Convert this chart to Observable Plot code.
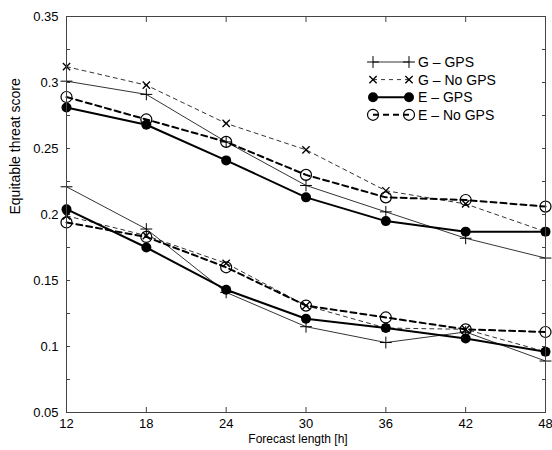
<!DOCTYPE html>
<html><head><meta charset="utf-8">
<script src="https://cdn.jsdelivr.net/npm/d3@7"></script>
<script src="https://cdn.jsdelivr.net/npm/@observablehq/plot@0.6"></script>
<style>
html,body{margin:0;padding:0;background:#fff;}
#chart{position:relative;width:552px;height:450px;}
</style></head><body><div id="chart"></div>
<script>
// Forecast length (hours)
const hours = [12, 18, 24, 30, 36, 42, 48];
// Upper group of curves
const gGpsUpper   = [0.301, 0.291, 0.255, 0.222, 0.202, 0.182, 0.167];
const gNoGpsUpper = [0.312, 0.298, 0.269, 0.249, 0.218, 0.208, 0.187];
const eGpsUpper   = [0.281, 0.268, 0.241, 0.213, 0.195, 0.187, 0.187];
const eNoGpsUpper = [0.289, 0.272, 0.255, 0.230, 0.213, 0.211, 0.206];
// Lower group of curves
const gGpsLower   = [0.221, 0.189, 0.141, 0.115, 0.103, 0.111, 0.089];
const gNoGpsLower = [0.199, 0.184, 0.163, 0.131, 0.114, 0.113, 0.096];
const eGpsLower   = [0.204, 0.175, 0.143, 0.121, 0.114, 0.106, 0.096];
const eNoGpsLower = [0.194, 0.183, 0.160, 0.131, 0.122, 0.113, 0.111];
// Legend labels and ticks
const seriesNames = ["G – GPS", "G – No GPS", "E – GPS", "E – No GPS"];
const xTicks = [12, 18, 24, 30, 36, 42, 48];
const yTicks = [0.05, 0.1, 0.15, 0.2, 0.25, 0.3, 0.35];
const yMinorTicks = [0.05, 0.075, 0.1, 0.125, 0.15, 0.175, 0.2, 0.225, 0.25, 0.275, 0.3, 0.325, 0.35];
const xLabel = "Forecast length [h]";
const yLabel = "Equitable threat score";

const seriesValues = [
  [gGpsUpper, gGpsLower],
  [gNoGpsUpper, gNoGpsLower],
  [eGpsUpper, eGpsLower],
  [eNoGpsUpper, eNoGpsLower]
];
const rows = [];
seriesNames.forEach((name, si) => {
  seriesValues[si].forEach((vals, bi) => {
    vals.forEach((v, i) => rows.push({hour: hours[i], value: v, series: name, band: bi}));
  });
});
const styles = {
  "G – GPS":    {line: {strokeWidth: 0.8}, dot: {symbol: "plus", r: 3.9, stroke: "#000", strokeWidth: 1, fill: "none"}},
  "G – No GPS": {line: {strokeWidth: 0.8, strokeDasharray: "4,4"}, dot: {symbol: "times", r: 3.4, stroke: "#000", strokeWidth: 1.3, fill: "none"}},
  "E – GPS":    {line: {strokeWidth: 2}, dot: {symbol: "circle", r: 5, fill: "#000", stroke: "none"}},
  "E – No GPS": {line: {strokeWidth: 2, strokeDasharray: "6,4"}, dot: {symbol: "circle", r: 5.5, fill: "none", stroke: "#000", strokeWidth: 1.2}}
};
const of = s => rows.filter(d => d.series === s);
const fmt = d => String(+d.toFixed(3));

const lineMarks = seriesNames.map(s => Plot.line(of(s), {x: "hour", y: "value", z: "band", stroke: "#000", ...styles[s].line}));
const dotMarks = seriesNames.map(s => Plot.dot(of(s), {x: "hour", y: "value", ...styles[s].dot}));

const plot = Plot.plot({
  width: 552, height: 450,
  marginLeft: 66, marginRight: 7, marginTop: 16, marginBottom: 38,
  style: {fontFamily: "'Liberation Sans', Arial, sans-serif", fontSize: "13px", color: "#000", background: "#fff", overflow: "visible"},
  x: {domain: [12, 48]},
  y: {domain: [0.05, 0.35]},
  marks: [
    Plot.axisY({anchor: "left", ticks: yMinorTicks, tickSize: 4, insetLeft: 4, tickFormat: () => "", label: null, stroke: "#444"}),
    Plot.axisY({anchor: "right", ticks: yMinorTicks, tickSize: 4, insetRight: 4, tickFormat: () => "", label: null, stroke: "#444"}),
    Plot.axisX({anchor: "top", ticks: xTicks, tickSize: 5, insetTop: 5, tickFormat: () => "", label: null, stroke: "#444"}),
    Plot.axisX({anchor: "bottom", ticks: xTicks, tickSize: 5, insetBottom: 5, tickFormat: () => "", label: null, stroke: "#444"}),
    Plot.axisY({anchor: "left", ticks: yTicks, tickSize: 0, tickPadding: 8, tickFormat: fmt, label: null}),
    Plot.axisX({anchor: "bottom", ticks: xTicks, tickSize: 0, tickPadding: 6, tickFormat: d => String(d), label: null}),
    Plot.text([yLabel], {text: d => d, frameAnchor: "left", rotate: -90, dx: -50.5, fontSize: 14, fill: "#000"}),
    Plot.text([xLabel], {text: d => d, frameAnchor: "bottom", dy: 30, dx: -8, fontSize: 12, fill: "#000"}),
    ...lineMarks,
    ...dotMarks,
    Plot.frame({stroke: "#444", strokeWidth: 1})
  ]
});
document.getElementById("chart").appendChild(plot);

// Legend (drawn inside the plot area, top right)
const svg = d3.select(plot);
const leg = svg.append("g").attr("transform", "translate(373,62)").attr("text-anchor", "start");
seriesNames.forEach((s, i) => {
  const st = styles[s];
  const g = leg.append("g").attr("transform", `translate(0,${i * 17.6})`);
  g.append("line").attr("x1", 0).attr("x2", 36).attr("y1", 0).attr("y2", 0)
    .attr("stroke", "#000").attr("stroke-width", st.line.strokeWidth)
    .attr("stroke-dasharray", st.line.strokeDasharray || null);
  const symType = {plus: d3.symbolPlus, times: d3.symbolTimes, circle: d3.symbolCircle}[st.dot.symbol];
  const path = d3.symbol(symType, Math.PI * st.dot.r * st.dot.r)();
  [0, 36].forEach(px => {
    g.append("path").attr("d", path).attr("transform", `translate(${px},0)`)
      .attr("fill", st.dot.fill).attr("stroke", st.dot.stroke)
      .attr("stroke-width", st.dot.strokeWidth || null);
  });
  g.append("text").attr("x", 45).attr("y", 0).attr("dy", "0.35em")
    .attr("text-anchor", "start").attr("font-size", 14).attr("fill", "#000").text(s);
});
</script></body></html>
